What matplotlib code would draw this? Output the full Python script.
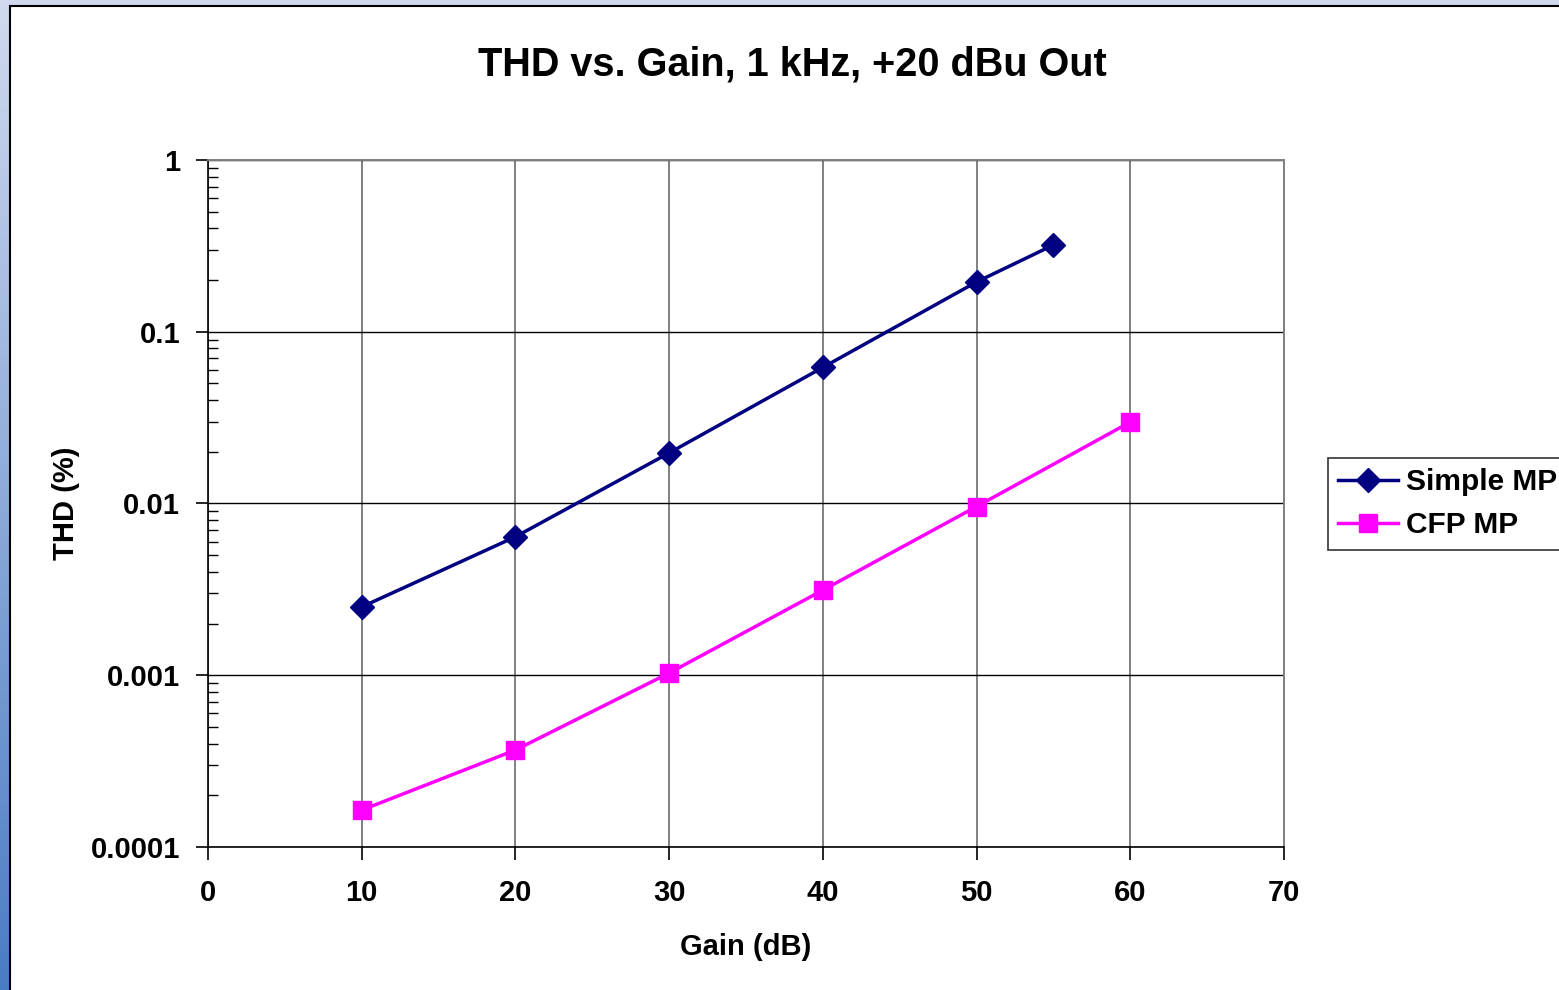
import numpy as np
import matplotlib
matplotlib.use('Agg')
import matplotlib.pyplot as plt
from matplotlib.patches import Rectangle

plt.rcParams['font.family'] = ['Liberation Sans', 'DejaVu Sans']
plt.rcParams['font.weight'] = 'bold'

gain_simple = [10, 20, 30, 40, 50, 55]
thd_simple = [0.0025, 0.0064, 0.0197, 0.062, 0.195, 0.32]
gain_cfp = [10, 20, 30, 40, 50, 60]
thd_cfp = [0.000164, 0.000367, 0.00103, 0.00313, 0.0096, 0.0298]

fig = plt.figure(figsize=(15.59, 9.9), dpi=100)

# slide-like background with blue gradient border
bg = fig.add_axes([0, 0, 1, 1])
grad = np.linspace(0, 1, 256).reshape(-1, 1)
cmap = matplotlib.colors.LinearSegmentedColormap.from_list('bg', ['#d0d9ee', '#4a7cc4'])
bg.imshow(grad, aspect='auto', cmap=cmap, extent=[0, 1, 0, 1], origin='upper')
bg.add_patch(Rectangle((10 / 1559, -0.1), 1.1, 1.1 - 6 / 990, facecolor='white',
                       edgecolor='black', linewidth=1.5))
bg.set_xlim(0, 1)
bg.set_ylim(0, 1)
bg.axis('off')

ax = fig.add_axes([208 / 1559, 1 - 847 / 990, (1284 - 208) / 1559, (847 - 160) / 990])
ax.set_facecolor('white')
ax.plot(gain_simple, thd_simple, color='#000080', linewidth=2.5, marker='D',
        markersize=12, label='Simple MP')
ax.plot(gain_cfp, thd_cfp, color='#ff00ff', linewidth=2.5, marker='s',
        markersize=13, label='CFP MP')

ax.set_yscale('log')
ax.set_xlim(0, 70)
ax.set_ylim(0.0001, 1)
ax.set_xticks(range(0, 71, 10))
ax.set_yticks([0.0001, 0.001, 0.01, 0.1, 1])
ax.set_yticklabels(['0.0001', '0.001', '0.01', '0.1', '1'])
ax.tick_params(axis='both', which='major', labelsize=21, length=9, width=1.2, direction='out')
ax.tick_params(axis='x', pad=14)
ax.tick_params(axis='y', pad=11)
ax.tick_params(axis='y', which='minor', direction='in', length=7, width=1, left=True)
ax.tick_params(axis='x', which='minor', bottom=False)
for lbl in ax.get_xticklabels() + ax.get_yticklabels():
    lbl.set_fontweight('bold')

ax.grid(True, axis='x', color='#808080', linewidth=1.4)
ax.grid(True, axis='y', which='major', color='black', linewidth=1.0)
ax.set_axisbelow(True)
for side in ['top', 'right']:
    ax.spines[side].set_color('#808080')
    ax.spines[side].set_linewidth(1.4)
for side in ['left', 'bottom']:
    ax.spines[side].set_color('black')
    ax.spines[side].set_linewidth(1.2)

ax.set_xlabel('Gain (dB)', fontsize=21, fontweight='bold', labelpad=19)
ax.set_ylabel('THD (%)', fontsize=21, fontweight='bold', labelpad=8)
fig.text(792 / 1559, 1 - 64 / 990, 'THD vs. Gain, 1 kHz, +20 dBu Out', fontsize=28.5,
         fontweight='bold', ha='center', va='center')

leg = fig.legend(loc='upper left', bbox_to_anchor=(1328 / 1559, 1 - 458 / 990),
                 borderaxespad=0, fontsize=21.5, frameon=True, fancybox=False,
                 edgecolor='black', handlelength=2.0, borderpad=0.35,
                 labelspacing=0.5, handletextpad=0.25)
leg.get_frame().set_linewidth(1.2)
for t in leg.get_texts():
    t.set_fontweight('bold')

fig.savefig('out.png', dpi=100)
